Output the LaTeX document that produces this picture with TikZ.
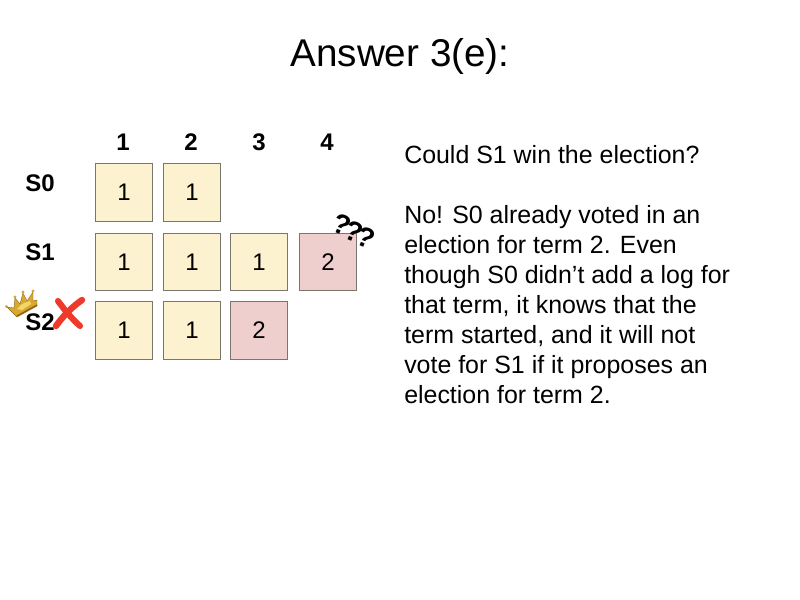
\documentclass[tikz,border=0pt]{standalone}
\usepackage{fontspec}
\setmainfont{Liberation Sans}
\definecolor{cellgold}{HTML}{FDF2CF}
\definecolor{cellpink}{HTML}{EFCFCD}
\definecolor{cellline}{HTML}{7A766E}
\definecolor{crossred}{HTML}{EE3A2A}
\definecolor{crowngold}{HTML}{D9A92F}
\definecolor{crownlight}{HTML}{F3D56A}
\definecolor{crowndark}{HTML}{8A6518}
\tikzset{
  cellbox/.style={draw=cellline,line width=0.8pt,minimum width=43pt,minimum height=43pt,inner sep=0pt,font=\fontsize{18}{20}\selectfont,text=black},
  goldcell/.style={cellbox,fill=cellgold},
  pinkcell/.style={cellbox,fill=cellpink},
  hdr/.style={font=\bfseries\fontsize{18}{20}\selectfont,inner sep=0pt},
  qmark/.style={font=\bfseries\fontsize{21}{22}\selectfont,inner sep=0pt},
}
\begin{document}
\begin{tikzpicture}[x=0.75pt,y=-0.75pt]
\useasboundingbox (0,0) rectangle (800,600);
\node[inner sep=0pt,font=\fontsize{29}{32}\selectfont] (title) at (400,56) {Answer 3(e):};
\node[hdr] (c1) at (123,142) {1};
\node[hdr] (c2) at (191,142) {2};
\node[hdr] (c3) at (259,142) {3};
\node[hdr] (c4) at (327,142) {4};
\node[hdr] (s0) at (40,183) {S0};
\node[hdr] (s1) at (40,252) {S1};
\node[goldcell] (a1) at (124,192.5) {1};
\node[goldcell] (a2) at (192,192.5) {1};
\node[goldcell] (b1) at (124,262) {1};
\node[goldcell] (b2) at (192,262) {1};
\node[goldcell] (b3) at (259,262) {1};
\node[pinkcell] (b4) at (328,262) {2};
\node[goldcell] (d1) at (124,330.5) {1};
\node[goldcell] (d2) at (192,330.5) {1};
\node[pinkcell] (d3) at (259,330.5) {2};
\node[qmark,rotate=-22] (q1) at (342,225) {?};
\node[qmark,rotate=-22] (q2) at (354,232) {?};
\node[qmark,rotate=-22] (q3) at (366,238) {?};
% crown
\fill[crowngold,draw=crowndark,line width=0.3pt,line join=round]
  (17,317) -- (7,307) -- (14,308) -- (15,298) -- (20,304) -- (23,293) -- (27,301) -- (33,292) -- (33,301) -- (37,300) -- (37,306) -- cycle;
\fill[crownlight] (17,309) -- (22,304) -- (30,301) -- (31,304) -- (22,310) -- cycle;
\draw[crowndark,line width=1pt] (17,316) -- (37,305);
\fill[crowngold] (6.5,306.5) circle (1.7) (15,297) circle (1.7) (23,292) circle (1.7) (33,291) circle (1.7);
\node[hdr] (s2) at (40,322) {S2};
% cross
\draw[crossred,line width=4.6pt,line cap=round] (58,301) .. controls (64,309) and (71,318) .. (80,326);
\draw[crossred,line width=4.8pt,line cap=round] (82,300) .. controls (72,307) and (63,316) .. (56,326);
\node[anchor=north west,align=left,inner sep=0pt,font=\fontsize{18.7}{22.5}\selectfont] (txt) at (404,145) {Could S1 win the election?\\[22.5pt]No! S0 already voted in an\\election for term 2. Even\\though S0 didn’t add a log for\\that term, it knows that the\\term started, and it will not\\vote for S1 if it proposes an\\election for term 2.};
\end{tikzpicture}
\end{document}
